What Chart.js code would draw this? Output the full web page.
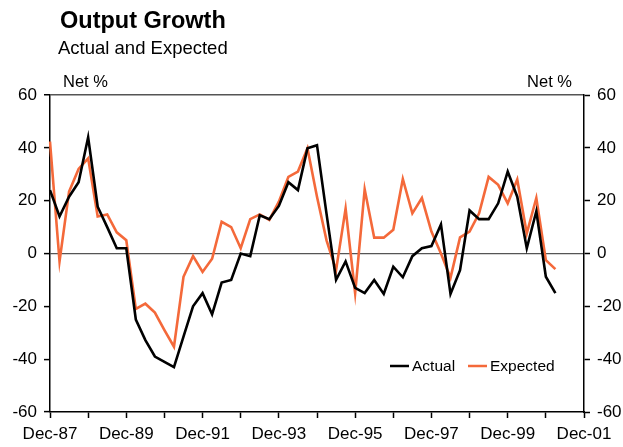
<!DOCTYPE html>
<html><head><meta charset="utf-8">
<script src="https://cdn.jsdelivr.net/npm/chart.js@4"></script>
<style>
html,body{margin:0;padding:0;background:#fff;}
#wrap{position:relative;width:623px;height:447px;font-family:"Liberation Sans",Arial,sans-serif;color:#000;}
#wrap div.t{position:absolute;white-space:nowrap;line-height:1;}
#title{left:60px;top:9px;font-size:23.5px;font-weight:bold;}
#sub{left:58px;top:39px;font-size:18.5px;}
#netL{left:63px;top:73px;font-size:16.5px;}
#netR{right:51px;top:73px;font-size:16.5px;}
canvas{position:absolute;left:0;top:0;}
</style></head>
<body>
<div id="wrap">
<canvas id="c" width="623" height="447"></canvas>
<div class="t" id="title">Output Growth</div>
<div class="t" id="sub">Actual and Expected</div>
<div class="t" id="netL">Net %</div>
<div class="t" id="netR">Net %</div>
</div>
<script>
// Quarterly categories Dec-87 .. Dec-01
const monthNames = ['Mar','Jun','Sep','Dec'];
const quarters = [];
for (let i = 0; i <= 56; i++) {
  const q = (3 + i) % 4;
  const yr = 1987 + Math.floor((3 + i) / 4);
  quarters.push(monthNames[q] + '-' + String(yr % 100).padStart(2, '0'));
}
const actual = [24,14,21.5,27,44,17.7,10,2,2,-25,-32.8,-39,-41,-43,-31.5,-20,-15,-23,-11,-10,0,-1,14.5,13,18,27,24,39.8,41,15,-10,-3,-13,-15,-10,-15.3,-5,-9,-1,2,2.8,11,-15.3,-6.3,16.3,13,13,19,31,21.5,2,16,-8.8,-15];
const expected = [42.4,-3,23.4,32,36,14,14.8,8,5,-21,-19,-22.4,-29,-35.3,-8.8,-1,-7,-2,12,10,2,13,14.8,12.7,19.6,29,31,39.8,21.5,5,-6.3,17,-15,24.3,6,6,9,28.2,15.2,21,8.3,0,-9.2,6.1,8.3,15.2,29,26,19,28,7.6,21,-2.5,-5.9];
const yTicks = [-60,-40,-20,0,20,40,60];
const seriesNames = ['Actual','Expected'];
const seriesColors = ['#000000','#F4693A'];

const FONT = '"Liberation Sans", Arial, sans-serif';

const legendPlugin = {
  id: 'inlineLegend',
  afterDraw(chart) {
    const ctx = chart.ctx;
    const a = chart.chartArea;
    const y = a.bottom - 46;
    const items = [{x: a.left + 340, label: seriesNames[0], color: seriesColors[0]},
                   {x: a.left + 418, label: seriesNames[1], color: seriesColors[1]}];
    ctx.save();
    ctx.font = '15.5px ' + FONT;
    ctx.textBaseline = 'middle';
    items.forEach(it => {
      ctx.strokeStyle = it.color;
      ctx.lineWidth = 2.5;
      ctx.beginPath();
      ctx.moveTo(it.x, y);
      ctx.lineTo(it.x + 19, y);
      ctx.stroke();
      ctx.fillStyle = '#000';
      ctx.fillText(it.label, it.x + 22, y + 1);
    });
    ctx.restore();
  }
};

new Chart(document.getElementById('c'), {
  type: 'line',
  data: {
    labels: quarters,
    datasets: [
      {label: seriesNames[0], data: actual, borderColor: seriesColors[0], borderWidth: 2.6, pointRadius: 0, tension: 0, yAxisID: 'y'},
      {label: seriesNames[1], data: expected, borderColor: seriesColors[1], borderWidth: 2.6, pointRadius: 0, tension: 0, yAxisID: 'y'}
    ]
  },
  options: {
    responsive: false,
    animation: false,
    layout: {padding: {top: 95, left: 0, right: 0, bottom: 0}},
    plugins: {legend: {display: false}, tooltip: {enabled: false}, title: {display: false}},
    scales: {
      x: {
        type: 'category',
        offset: false,
        grid: {display: true, drawOnChartArea: false, drawTicks: true, tickLength: 6,
               tickColor: c => (c.index % 4 === 0 ? '#000' : 'rgba(0,0,0,0)'), tickWidth: 1.5},
        border: {display: true, color: '#000', width: 1.5},
        ticks: {autoSkip: false, maxRotation: 0, minRotation: 0, padding: 6,
                color: '#000', font: {family: FONT, size: 17},
                callback: function(v, i) { return i % 8 === 0 ? this.getLabelForValue(v) : ''; }},
        afterFit: s => { s.height = 35; }
      },
      y: {
        position: 'left',
        min: -60, max: 60,
        afterBuildTicks: s => { s.ticks = yTicks.map(v => ({value: v})); },
        grid: {display: true, drawOnChartArea: true, drawTicks: true, tickLength: 6, tickWidth: 1.5,
               tickColor: '#000',
               color: c => (c.tick && (c.tick.value === 0 || c.tick.value === 60) ? '#555' : 'rgba(0,0,0,0)'),
               lineWidth: c => (c.tick && c.tick.value === 60 ? 1.5 : 1.2)},
        border: {display: true, color: '#000', width: 1.5},
        ticks: {padding: 7, color: '#000', font: {family: FONT, size: 17}},
        afterFit: s => { s.width = 50; }
      },
      y2: {
        position: 'right',
        min: -60, max: 60,
        afterBuildTicks: s => { s.ticks = yTicks.map(v => ({value: v})); },
        grid: {display: true, drawOnChartArea: false, drawTicks: true, tickLength: 6, tickWidth: 1.5, tickColor: '#000'},
        border: {display: true, color: '#000', width: 1.5},
        ticks: {padding: 7, color: '#000', font: {family: FONT, size: 17}},
        afterFit: s => { s.width = 39; }
      }
    }
  },
  plugins: [legendPlugin]
});
</script>
</body></html>
